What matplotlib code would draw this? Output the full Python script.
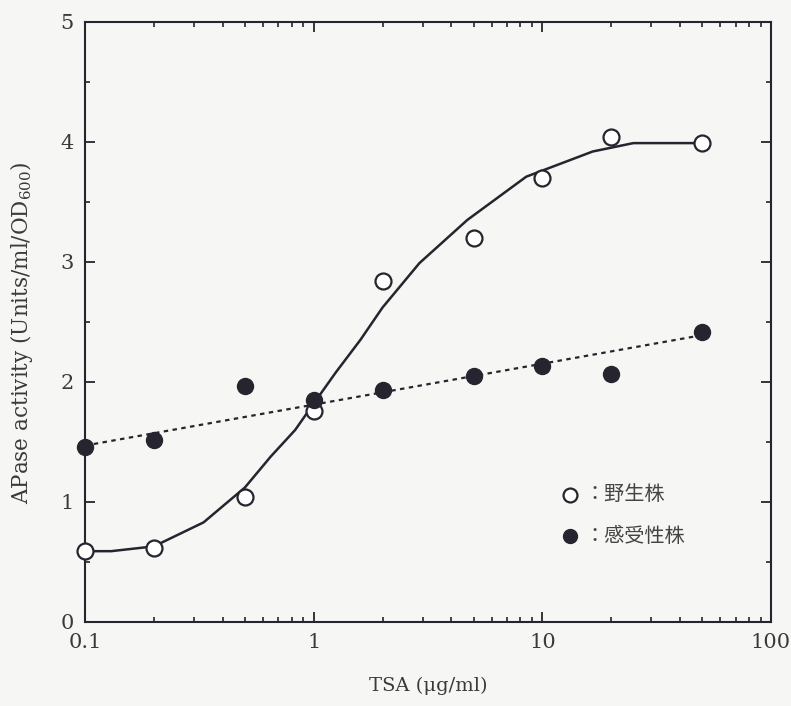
import numpy as np
import matplotlib as mpl
import matplotlib.pyplot as plt
from matplotlib.ticker import MultipleLocator, LogLocator, NullFormatter, FixedLocator, FixedFormatter

mpl.rcParams.update({
    'font.family': ['DejaVu Serif', 'Noto Sans CJK JP'],
    'mathtext.fontset': 'dejavuserif',
    'axes.unicode_minus': False,
})

# data
tsa = [0.1, 0.2, 0.5, 1, 2, 5, 10, 20, 50]
wild = [0.59, 0.62, 1.04, 1.76, 2.84, 3.20, 3.70, 4.04, 3.99]
sens = [1.46, 1.52, 1.97, 1.85, 1.93, 2.05, 2.13, 2.07, 2.42]

# hand-drawn fit curves
fit_x = [0.1, 0.13, 0.2, 0.33, 0.5, 0.65, 0.83, 1.0, 1.25, 1.6, 2.0, 2.9, 4.7, 8.5, 16.6, 25, 50]
fit_y = [0.59, 0.59, 0.63, 0.83, 1.12, 1.38, 1.60, 1.82, 2.08, 2.35, 2.62, 2.99, 3.35, 3.71, 3.92, 3.99, 3.99]
lin_x = [0.1, 50]
lin_y = [1.47, 2.39]

bg = '#f6f6f4'
ink = '#26242e'
txt = '#3a3a3a'

fig = plt.figure(figsize=(7.91, 7.06), dpi=100, facecolor=bg)
ax = fig.add_axes([0.1075, 0.119, 0.8672, 0.850])
ax.set_facecolor(bg)

ax.plot(fit_x, fit_y, color=ink, lw=1.8, zorder=2)
ax.plot(lin_x, lin_y, color=ink, lw=1.6, ls=(0, (2, 2)), zorder=2)
ax.plot(tsa, wild, 'o', ms=11.5, mfc='white', mec=ink, mew=1.6, zorder=3, clip_on=False)
ax.plot(tsa, sens, 'o', ms=11.5, mfc=ink, mec=ink, zorder=3, clip_on=False)

ax.set_xscale('log')
ax.set_xlim(0.1, 100)
ax.set_ylim(0, 5)
ax.xaxis.set_major_locator(FixedLocator([0.1, 1, 10, 100]))
ax.xaxis.set_major_formatter(FixedFormatter(['0.1', '1', '10', '100']))
ax.xaxis.set_minor_locator(LogLocator(base=10, subs=np.arange(2, 10)))
ax.xaxis.set_minor_formatter(NullFormatter())
ax.yaxis.set_major_locator(MultipleLocator(1))
ax.yaxis.set_minor_locator(MultipleLocator(0.5))

ax.tick_params(which='both', direction='in', top=True, right=True, color=ink,
               labelsize=15, labelcolor=txt)
ax.tick_params(which='major', length=7, width=1.3)
ax.tick_params(which='minor', length=3.5, width=1.2)
ax.tick_params(axis='x', pad=8)
ax.tick_params(axis='y', pad=8)
for s in ax.spines.values():
    s.set_linewidth(1.5)
    s.set_color(ink)

ax.set_xlabel('TSA (μg/ml)', fontsize=14, color=txt, labelpad=18)
ax.set_ylabel('APase activity (Units/ml/OD$_{600}$)', fontsize=15.5, color=txt)
ax.yaxis.set_label_coords(-0.073, 0.482)

# legend
ax.plot([0.707], [0.212], 'o', ms=10, mfc='white', mec=ink, mew=1.6, transform=ax.transAxes)
ax.plot([0.707], [0.143], 'o', ms=10, mfc=ink, mec=ink, transform=ax.transAxes)
ax.text(0.728, 0.212, '：野生株', transform=ax.transAxes, va='center', fontsize=14.5,
        color='#444444', family=['Noto Sans CJK JP'])
ax.text(0.728, 0.143, '：感受性株', transform=ax.transAxes, va='center', fontsize=14.5,
        color='#444444', family=['Noto Sans CJK JP'])

fig.savefig('out.png', dpi=100, facecolor=bg)
